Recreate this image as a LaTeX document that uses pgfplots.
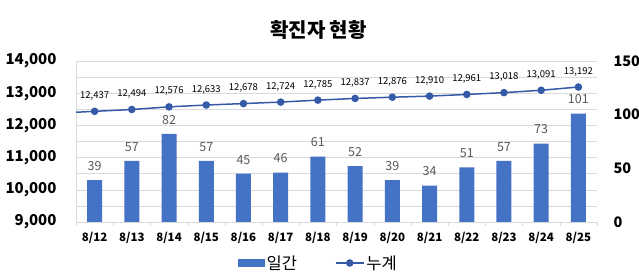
\documentclass[border=0pt]{standalone}
\usepackage{fontspec}
\setmainfont{Noto Sans CJK KR}
\usepackage{pgfplots}
\pgfplotsset{compat=1.18}
\definecolor{barblue}{RGB}{68,114,196}
\definecolor{lineblue}{RGB}{52,90,168}
\definecolor{gridgray}{RGB}{217,217,217}
\definecolor{labgray}{RGB}{89,89,89}
\pgfplotsset{
  /pgf/number format/1000 sep={,},
  /pgf/number format/assume math mode=true,
  my line legend/.style={legend image code/.code={\draw[mark repeat=2,mark phase=2,##1] plot coordinates {(0pt,0pt)(14pt,0pt)(28pt,0pt)};}},
  my bar legend/.style={legend image code/.code={\fill[barblue] (0pt,-3.5pt) rectangle (26pt,3.5pt);}},
}
\begin{document}
\begin{tikzpicture}
\useasboundingbox (0,0) rectangle (639pt,278pt);
% bars (right axis)
\begin{axis}[
  at={(76pt,56pt)}, anchor=south west,
  scale only axis, width=521pt, height=161pt,
  xmin=-0.5, xmax=13.5, ymin=0, ymax=150,
  axis y line*=right, axis x line*=bottom,
  y axis line style={draw=none},
  x axis line style={gridgray},
  ytick={0,50,100,150},
  yticklabel style={font=\fontsize{14.5}{14.5}\selectfont\bfseries, xshift=13pt},
  extra y ticks={15,30,45,60,75,90,105,120,135,150},
  extra y tick labels={},
  extra y tick style={grid=major, grid style={gridgray}},
  xtick={0,...,13},
  xticklabels={8/12,8/13,8/14,8/15,8/16,8/17,8/18,8/19,8/20,8/21,8/22,8/23,8/24,8/25},
  xticklabel style={font=\fontsize{11.5}{11.5}\selectfont\bfseries, yshift=-7pt},
  minor xtick={-0.5,0.5,...,13.5},
  major tick length=0pt, minor tick length=4pt,
  tick align=outside,
  minor tick style={gridgray},
]
\addplot[ybar, bar width=15pt, fill=barblue, draw=none,
  nodes near coords,
  nodes near coords style={font=\fontsize{12.5}{12.5}\selectfont, text=labgray, yshift=6pt}]
  coordinates {(0,39)(1,57)(2,82)(3,57)(4,45)(5,46)(6,61)(7,52)(8,39)(9,34)(10,51)(11,57)(12,73)(13,101)};
\end{axis}
% line (left axis)
\begin{axis}[
  at={(76pt,56pt)}, anchor=south west,
  scale only axis, width=521pt, height=161pt,
  xmin=-0.5, xmax=13.5, ymin=9000, ymax=14000,
  axis y line*=left, axis x line=none,
  y axis line style={gridgray},
  ytick={9000,10000,...,14000},
  scaled y ticks=false,
  major tick length=0pt,
  yticklabel style={font=\fontsize{15}{15}\selectfont\bfseries, xshift=-16pt, /pgf/number format/fixed},
  title={확진자 현황},
  title style={font=\fontsize{20}{20}\selectfont\bfseries, at={(0.5,1)}, anchor=center, yshift=25pt, xshift=-18pt},
  legend style={at={(0.5,0)}, anchor=center, yshift=-41pt, xshift=-18pt, draw=none, fill=none,
    font=\fontsize{16.5}{16.5}\selectfont, legend columns=2,
    /tikz/every even column/.append style={column sep=36pt}},
]
\addlegendimage{my bar legend}
\addlegendentry{일간}
\addplot[lineblue, line width=1.5pt, forget plot] coordinates {(-1,12380)(0,12437)};
\addplot[lineblue, line width=1.5pt, mark=*, mark size=3pt, mark options={fill=lineblue},
  nodes near coords,
  nodes near coords style={font=\fontsize{9.5}{9.5}\selectfont, text=black, yshift=7pt},
  my line legend]
  coordinates {(0,12437)(1,12494)(2,12576)(3,12633)(4,12678)(5,12724)(6,12785)(7,12837)(8,12876)(9,12910)(10,12961)(11,13018)(12,13091)(13,13192)};
\addlegendentry{누계}
\end{axis}
\end{tikzpicture}
\end{document}
